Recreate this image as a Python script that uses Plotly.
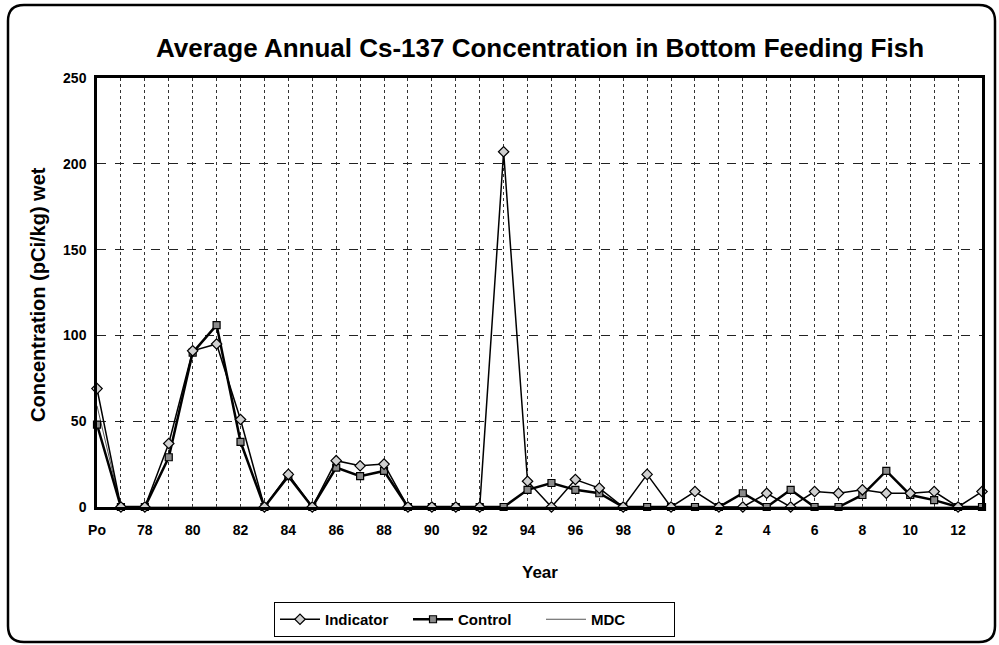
import plotly.graph_objects as go

years = ["Po"] + [str(y) for y in range(77, 100)] + [str(y) for y in range(0, 14)]
tick_labels = ["Po", "", "78", "", "80", "", "82", "", "84", "", "86", "", "88", "", "90", "", "92", "",
               "94", "", "96", "", "98", "", "0", "", "2", "", "4", "", "6", "", "8", "", "10", "", "12", ""]

indicator = [69, 0, 0, 37, 91, 95, 51, 0, 19, 0, 27, 24, 25, 0, 0, 0, 0, 207, 15, 0, 16, 11, 0, 19,
             0, 9, 0, 0, 8, 0, 9, 8, 10, 8, 8, 9, 0, 9]
control = [48, 0, 0, 29, 90, 106, 38, 0, 18, 0, 23, 18, 21, 0, 0, 0, 0, 0, 10, 14, 10, 8, 0, 0,
           0, 0, 0, 8, 0, 10, 0, 0, 7, 21, 7, 4, 0, 0]
mdc = [59, 0, 0, 0, 0, 0, 0, 0, 0, 0, 0, 0, 0, 0, 0, 0, 0, 0, 0, 0, 0, 0, 0, 0,
       0, 0, 0, 0, 0, 0, 0, 0, 0, 0, 0, 0, 0, 0]

W, H = 999, 645
L, R, T, B = 97, 982, 78, 507


def px(x):
    return (x - L) / (R - L)


def py(y):
    return (B - y) / (B - T)


FONT = "Arial, Liberation Sans, sans-serif"

fig = go.Figure()
fig.add_trace(go.Scatter(
    x=years, y=mdc, name="MDC", mode="lines",
    line=dict(color="#555555", width=1), cliponaxis=False))
fig.add_trace(go.Scatter(
    x=years, y=control, name="Control", mode="lines+markers",
    line=dict(color="black", width=2.5),
    marker=dict(symbol="square", size=7, color="#8a8a8a", line=dict(color="black", width=1.2)),
    cliponaxis=False))
fig.add_trace(go.Scatter(
    x=years, y=indicator, name="Indicator", mode="lines+markers",
    line=dict(color="black", width=1.5),
    marker=dict(symbol="diamond", size=8, color="#d0d0d0", line=dict(color="black", width=1.2)),
    cliponaxis=False))

# rounded outer frame
x0, x1, y0, y1, r = 8, 995, 5, 642, 16
path = (f"M {px(x0 + r)},{py(y0)} L {px(x1 - r)},{py(y0)} Q {px(x1)},{py(y0)} {px(x1)},{py(y0 + r)} "
        f"L {px(x1)},{py(y1 - r)} Q {px(x1)},{py(y1)} {px(x1 - r)},{py(y1)} "
        f"L {px(x0 + r)},{py(y1)} Q {px(x0)},{py(y1)} {px(x0)},{py(y1 - r)} "
        f"L {px(x0)},{py(y0 + r)} Q {px(x0)},{py(y0)} {px(x0 + r)},{py(y0)} Z")

fig.update_layout(
    width=W, height=H,
    margin=dict(l=L, r=W - R, t=T, b=H - B, autoexpand=False),
    paper_bgcolor="white", plot_bgcolor="white",
    font=dict(family=FONT, size=13, color="black", weight="bold"),
    title=dict(text="Average Annual Cs-137 Concentration in Bottom Feeding Fish",
               x=px(540), xref="paper", xanchor="center", y=1 - 48 / H, yanchor="middle",
               font=dict(size=26, family=FONT, weight="bold")),
    showlegend=True,
    legend=dict(orientation="h", x=px(274), xanchor="left", y=py(602), yanchor="top",
                traceorder="reversed", bordercolor="black", borderwidth=1,
                font=dict(size=15, family=FONT, weight="bold"),
                entrywidth=78, itemwidth=40),
    shapes=[dict(type="path", path=path, xref="paper", yref="paper",
                 line=dict(color="black", width=2.5), layer="above")],
    annotations=[
        dict(text="Year", x=0.5, y=py(572), xref="paper", yref="paper", showarrow=False,
             font=dict(size=17, family=FONT, weight="bold"), xanchor="center", yanchor="middle"),
        dict(text="Concentration (pCi/kg) wet", x=px(38), y=py(295), xref="paper", yref="paper",
             showarrow=False, textangle=-90,
             font=dict(size=20, family=FONT, weight="bold"), xanchor="center", yanchor="middle"),
    ],
)

fig.update_xaxes(
    type="category", categoryorder="array", categoryarray=years,
    tickmode="array", tickvals=years, ticktext=tick_labels,
    range=[0, len(years) - 1],
    showgrid=True, gridcolor="#333333", gridwidth=1, griddash="dot",
    showline=True, linecolor="black", linewidth=2.5, mirror=True,
    ticks="", tickfont=dict(size=14, family=FONT, weight="bold"),
    ticklabelstandoff=8,
    zeroline=False,
)
fig.update_yaxes(
    range=[0, 250], dtick=50, tick0=0,
    showgrid=True, gridcolor="#222222", gridwidth=1, griddash="dash",
    showline=True, linecolor="black", linewidth=2.5, mirror=True,
    ticks="", tickfont=dict(size=14, family=FONT, weight="bold"),
    ticklabelstandoff=5,
    zeroline=False,
)

fig.write_html("out.html", config={"displayModeBar": False})

# remove the browser's default body margin so the figure sits at the page origin
with open("out.html", "r", encoding="utf-8") as f:
    html = f.read()
html = html.replace("<head>", "<head><style>html,body{margin:0;padding:0;}</style>", 1)
with open("out.html", "w", encoding="utf-8") as f:
    f.write(html)
